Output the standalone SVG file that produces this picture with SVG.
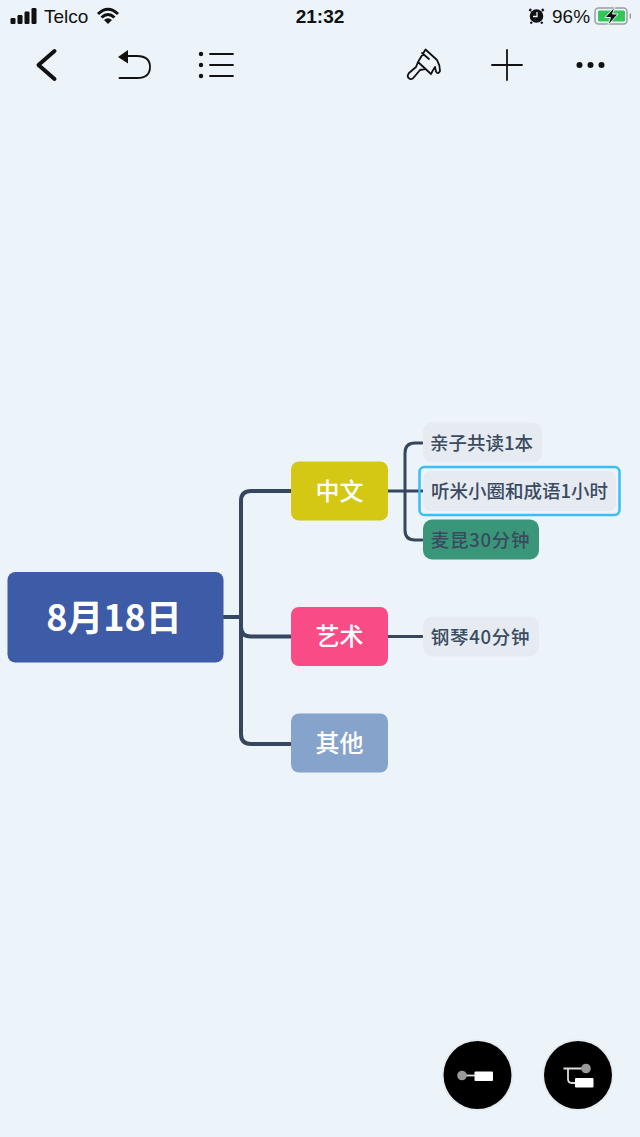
<svg xmlns="http://www.w3.org/2000/svg" width="640" height="1137" viewBox="0 0 640 1137">
<style>
.st{font-family:"Liberation Sans",Arial,sans-serif;fill:#111}
.cj{font-family:"Noto Sans CJK SC","Noto Sans",sans-serif;text-anchor:middle;font-weight:500}
.lv0{font-size:36px;fill:#fff;font-weight:700}
.lv1{font-size:24px;fill:#fff;font-weight:500}
.lv2{font-size:18.500px;fill:#3a4a60}
.sp{letter-spacing:0.700px}
.c{fill:none;stroke:#35465f;stroke-linecap:round;stroke-linejoin:round}
.ic{fill:none;stroke:#111;stroke-linecap:round;stroke-linejoin:round}
</style>
<rect width="640" height="1137" fill="#ecf3f9"/>
<g id="statusbar">
<g fill="#111"><rect x="10.500" y="18" width="5" height="6" rx="1.200"/><rect x="17.500" y="15" width="5" height="9" rx="1.200"/><rect x="24.500" y="11.500" width="5" height="12.500" rx="1.200"/><rect x="31.500" y="8" width="5" height="16" rx="1.200"/></g>
<text class="st" x="44" y="23" font-size="19">Telco</text>
<path d="M98 14Q108 4.500 118 14M101.500 17.500Q108 11.500 114.500 17.500" fill="none" stroke="#111" stroke-width="3"/>
<path d="M104 20Q108 16.500 112 20L108 24Z" fill="#111"/>
<text class="st" x="320" y="23" font-size="19" font-weight="700" text-anchor="middle">21:32</text>
<circle cx="536.500" cy="16" r="6.800" fill="#111"/>
<path d="M531 9L529.500 11M542 9L543.500 11M532 22L530.500 23.500M541 22L542.500 23.500" stroke="#111" stroke-width="2.200"/>
<path d="M537 12V16.500H533" fill="none" stroke="#ecf3f9" stroke-width="1.300"/>
<text class="st" x="552" y="23" font-size="19">96%</text>
<rect x="595" y="8" width="32" height="16" rx="3.500" fill="none" stroke="#9a9e9f" stroke-width="1.500"/>
<rect x="598" y="10.500" width="27" height="11" rx="1.500" fill="#33c759"/>
<rect x="629.500" y="13.500" width="1.500" height="5" fill="#9a9e9f"/>
<path d="M615 6.500L605 17.500H610.500L607.500 26L618 14H612.500Z" fill="#111" stroke="#ecf3f9" stroke-width="1"/>
</g>
<g id="toolbar">
<path class="ic" stroke-width="4" d="M54.500 51L38.500 65L54.500 79"/>
<path class="ic" stroke-width="1.800" d="M127 56H137Q150 56 150 67Q150 78 137 78H119.500"/>
<path d="M118 57L128 50V63.500Z" fill="#111"/>
<g fill="#111"><circle cx="201" cy="54" r="2.200"/><circle cx="201" cy="65" r="2.200"/><circle cx="201" cy="76" r="2.200"/></g>
<path class="ic" stroke-width="1.800" d="M210 54H233M210 65H233M210 76H233"/>
<path class="ic" stroke-width="1.800" d="M425.500 49.500L437 60Q440 65 440 71Q438 75 436 71.500L435 67Q433 70 431 74L418 62ZM422 53L429 59M418 62L416 67L409 73Q406 77 410 79Q412 80 415 76L420 70L425 69"/>
<path class="ic" stroke-width="1.800" d="M492 65H522M507 50V80"/>
<g fill="#111"><circle cx="579.500" cy="65" r="3"/><circle cx="590.500" cy="65" r="3"/><circle cx="601.500" cy="65" r="3"/></g>
</g>
<g id="connectors">
<path class="c" stroke-width="4" d="M224 617H241M291 491H251Q241 491 241 501V734Q241 744 251 744H291M241 627Q241 636.500 251 636.500H291"/>
<path class="c" stroke-width="3" d="M388 491H422M422 443H415Q405 443 405 453V530Q405 540 415 540H422M388 636.500H422"/>
</g>
<g id="root"><rect x="7.500" y="572" width="216" height="90.500" rx="8" fill="#3d5ba6"/><text class="cj lv0" x="114" y="630.500">8月18日</text></g>
<g id="n-zhongwen"><rect x="291" y="461.500" width="97" height="59" rx="8" fill="#d4c815"/><text class="cj lv1" x="339.500" y="499.500">中文</text></g>
<g id="n-yishu"><rect x="291" y="607" width="97" height="59" rx="8" fill="#f94b86"/><text class="cj lv1" x="339.500" y="645">艺术</text></g>
<g id="n-qita"><rect x="291" y="713.500" width="97" height="59" rx="8" fill="#86a3cb"/><text class="cj lv1" x="339.500" y="752">其他</text></g>
<g id="n-qinzi"><rect x="423" y="422.500" width="119" height="40" rx="9" fill="#e6ebf2"/><text class="cj lv2" x="481.500" y="449.500">亲子共读1本</text></g>
<g id="n-tingmi"><rect x="419.500" y="467" width="200" height="48" rx="5" fill="none" stroke="#3bbdf5" stroke-width="2.500"/><rect x="423" y="471" width="193" height="40" rx="8" fill="#e6ebf2"/><text class="cj lv2" x="519.500" y="498">听米小圈和成语1小时</text></g>
<g id="n-maikun"><rect x="423" y="519.500" width="116" height="40" rx="9" fill="#3a9678"/><text class="cj lv2 sp" x="480.500" y="546.500">麦昆30分钟</text></g>
<g id="n-gangqin"><rect x="423" y="616.500" width="116" height="40" rx="9" fill="#e6ebf2"/><text class="cj lv2 sp" x="480.500" y="643.500">钢琴40分钟</text></g>
<g id="btn-sibling">
<circle cx="477.500" cy="1075" r="36" fill="#000" opacity="0.03"/>
<circle cx="477.500" cy="1075" r="34" fill="#000"/>
<path d="M462 1075.500H476" stroke="#ddd" stroke-width="1.800"/>
<circle cx="462" cy="1075.500" r="4.800" fill="#9a9a9a"/>
<rect x="474.500" y="1071.500" width="18.500" height="9.500" rx="1" fill="#fff"/>
</g>
<g id="btn-child">
<circle cx="578" cy="1075" r="36" fill="#000" opacity="0.03"/>
<circle cx="578" cy="1075" r="34" fill="#000"/>
<path d="M563.500 1068.500H585M568 1068.500V1079Q568 1083 572 1083H576" fill="none" stroke="#ddd" stroke-width="1.800"/>
<circle cx="586" cy="1068.500" r="4.800" fill="#9a9a9a"/>
<rect x="575" y="1078" width="18.500" height="9.500" rx="1" fill="#fff"/>
</g>
</svg>
